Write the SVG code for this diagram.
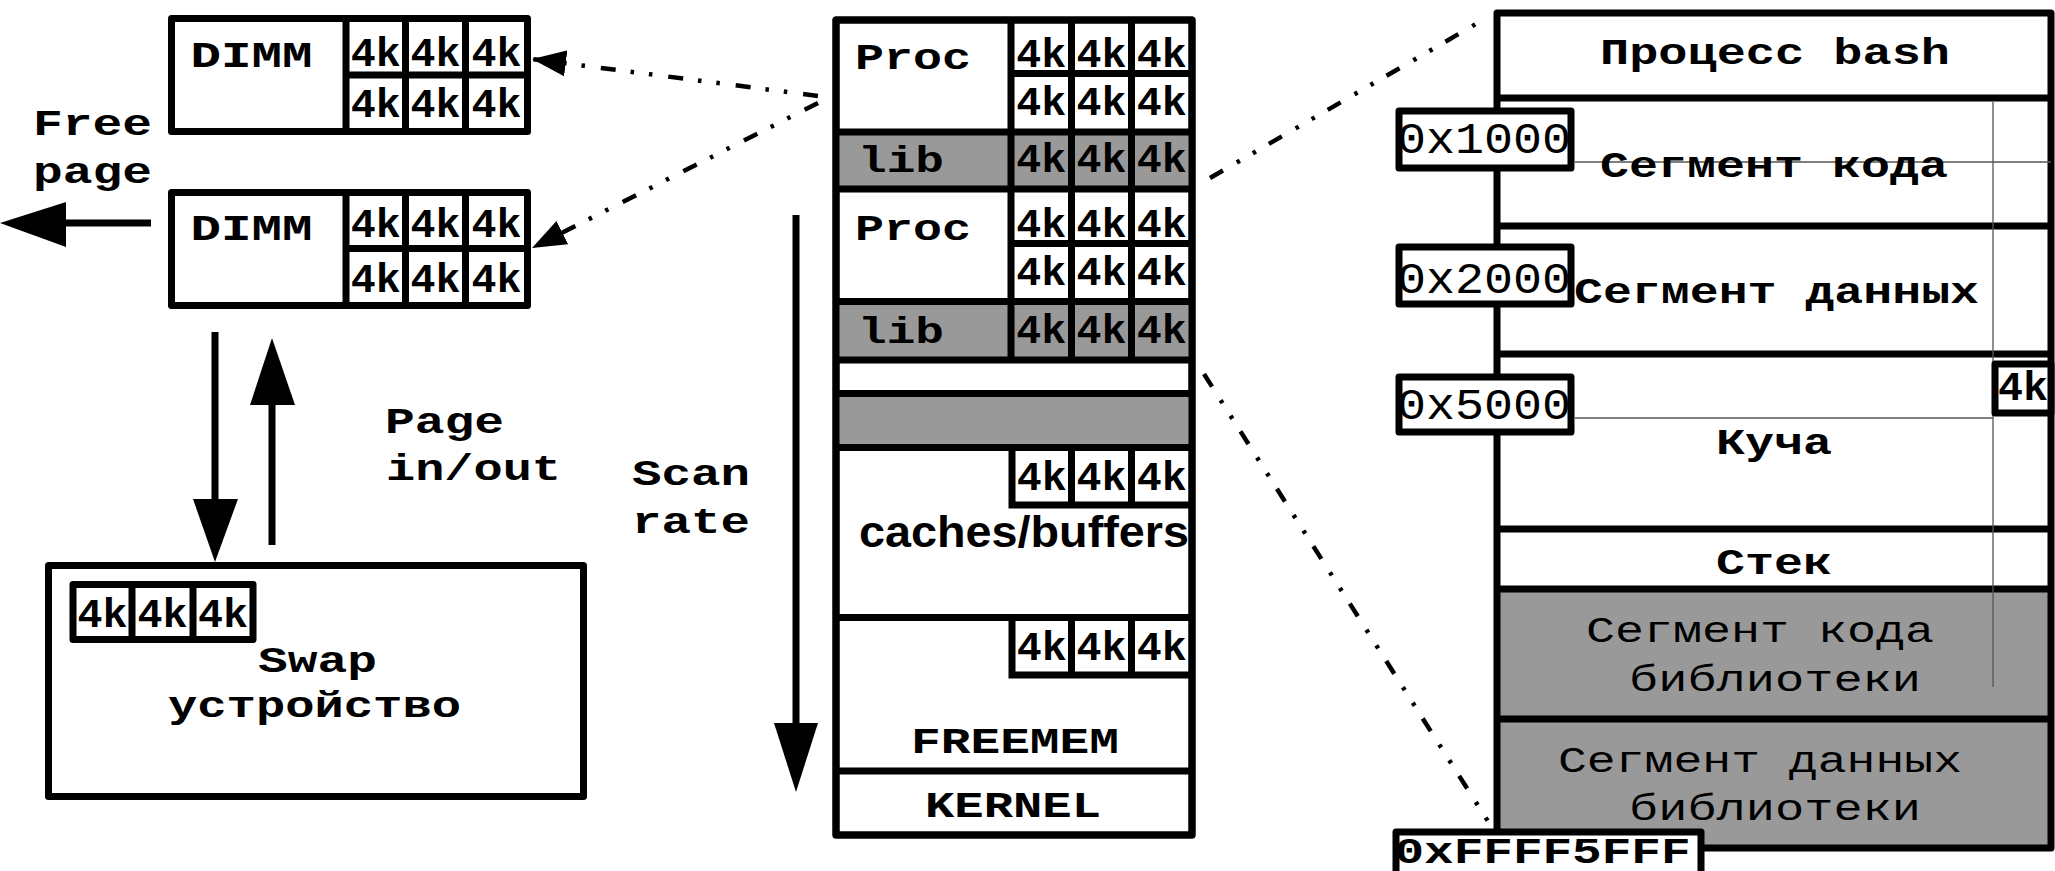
<svg xmlns="http://www.w3.org/2000/svg" width="2055" height="871" viewBox="0 0 2055 871">
  <style>
    .box { fill: #fff; stroke: #000; stroke-width: 7; stroke-linejoin: round; }
    .ln { stroke: #000; stroke-width: 7; fill: none; }
    .gray { fill: #999; }
    .thin { stroke: #555; stroke-width: 1.3; fill: none; }
    .t { font-family: "Liberation Mono", "DejaVu Sans Mono", monospace; font-weight: bold; font-size: 37px; text-anchor: middle; fill: #000; }
    .r { font-weight: normal; }
    .k { font-size: 41px; }
    .addr { font-weight: normal; font-size: 44px; }
    .sans { font-family: "Liberation Sans", Arial, sans-serif; font-weight: bold; font-size: 45px; text-anchor: middle; }
    .dd { stroke: #000; stroke-width: 4.5; fill: none; stroke-dasharray: 15 16 3.5 15 3.5 15; }
    .arr { fill: #000; }
  </style>
  <defs>
    <marker id="head" markerUnits="userSpaceOnUse" markerWidth="36" markerHeight="28" refX="34" refY="14" orient="auto">
      <path d="M0,1 L34,14 L0,27 Z" fill="#000"/>
    </marker>
  </defs>

  <rect width="2055" height="871" fill="#fff"/>

  <!-- upper DIMM -->
  <g id="dimm1">
    <rect class="box" x="171.5" y="18.5" width="356" height="113"/>
    <path class="ln" d="M346,18.5 V131.5 M405.5,18.5 V131.5 M465.5,18.5 V131.5 M346,75 H527.5"/>
    <text class="t" x="251.5" y="67" textLength="122" lengthAdjust="spacingAndGlyphs">DIMM</text>
    <g class="t k">
      <text x="375.8" y="66" textLength="50" lengthAdjust="spacingAndGlyphs">4k</text>
      <text x="435.5" y="66" textLength="50" lengthAdjust="spacingAndGlyphs">4k</text>
      <text x="496.5" y="66" textLength="50" lengthAdjust="spacingAndGlyphs">4k</text>
      <text x="375.8" y="117" textLength="50" lengthAdjust="spacingAndGlyphs">4k</text>
      <text x="435.5" y="117" textLength="50" lengthAdjust="spacingAndGlyphs">4k</text>
      <text x="496.5" y="117" textLength="50" lengthAdjust="spacingAndGlyphs">4k</text>
    </g>
  </g>

  <!-- lower DIMM -->
  <g id="dimm2">
    <rect class="box" x="171.5" y="192.5" width="356" height="113"/>
    <path class="ln" d="M346,192.5 V305.5 M405.5,192.5 V305.5 M465.5,192.5 V305.5 M346,248.5 H527.5"/>
    <text class="t" x="251.5" y="240" textLength="122" lengthAdjust="spacingAndGlyphs">DIMM</text>
    <g class="t k">
      <text x="375.8" y="237" textLength="50" lengthAdjust="spacingAndGlyphs">4k</text>
      <text x="435.5" y="237" textLength="50" lengthAdjust="spacingAndGlyphs">4k</text>
      <text x="496.5" y="237" textLength="50" lengthAdjust="spacingAndGlyphs">4k</text>
      <text x="375.8" y="292" textLength="50" lengthAdjust="spacingAndGlyphs">4k</text>
      <text x="435.5" y="292" textLength="50" lengthAdjust="spacingAndGlyphs">4k</text>
      <text x="496.5" y="292" textLength="50" lengthAdjust="spacingAndGlyphs">4k</text>
    </g>
  </g>

  <!-- free page label -->
  <g id="free-page">
    <text class="t" x="92.5" y="135" textLength="119" lengthAdjust="spacingAndGlyphs">Free</text>
    <text class="t" x="92.5" y="183" textLength="119" lengthAdjust="spacingAndGlyphs">page</text>
  </g>

  <!-- page in/out label -->
  <g id="page-inout">
    <text class="t" x="444.5" y="433" textLength="119" lengthAdjust="spacingAndGlyphs">Page</text>
    <text class="t" x="473.5" y="480" textLength="175" lengthAdjust="spacingAndGlyphs">in/out</text>
  </g>

  <!-- swap device -->
  <g id="swap">
    <rect class="box" x="48.5" y="565.5" width="535" height="231"/>
    <rect class="box" x="73" y="584.5" width="180" height="55"/>
    <path class="ln" d="M132,584.5 V639.5 M193,584.5 V639.5"/>
    <g class="t k">
      <text x="102.5" y="627" textLength="50" lengthAdjust="spacingAndGlyphs">4k</text>
      <text x="162.5" y="627" textLength="50" lengthAdjust="spacingAndGlyphs">4k</text>
      <text x="223" y="627" textLength="50" lengthAdjust="spacingAndGlyphs">4k</text>
    </g>
    <text class="t" x="317.5" y="672" textLength="119" lengthAdjust="spacingAndGlyphs">Swap</text>
    <text class="t" x="314.5" y="717" textLength="293" lengthAdjust="spacingAndGlyphs">устройство</text>
  </g>

  <!-- scan rate label -->
  <g id="scan-rate">
    <text class="t" x="691" y="485" textLength="118" lengthAdjust="spacingAndGlyphs">Scan</text>
    <text class="t" x="691" y="533" textLength="118" lengthAdjust="spacingAndGlyphs">rate</text>
  </g>

  <!-- physical memory column -->
  <g id="memory">
    <rect class="box" x="836" y="20" width="356" height="815"/>
    <rect class="gray" x="836" y="132" width="356" height="57"/>
    <rect class="gray" x="836" y="301.5" width="356" height="58.5"/>
    <rect class="gray" x="836" y="393.5" width="356" height="54"/>
    <path class="ln" d="M836,132 H1192 M836,189 H1192 M836,301.5 H1192 M836,360 H1192 M836,393.5 H1192 M836,447.5 H1192 M836,617.5 H1192 M836,771 H1192"/>
    <path class="ln" d="M1011,20 V360 M1071.5,20 V360 M1131.5,20 V360 M1011,73.5 H1192 M1011,243.5 H1192"/>
    <path class="ln" d="M1012,447.5 V505 H1192 M1071.5,447.5 V505 M1131.5,447.5 V505"/>
    <path class="ln" d="M1012,617.5 V675 H1192 M1071.5,617.5 V675 M1131.5,617.5 V675"/>
    <rect x="836" y="20" width="356" height="815" fill="none" stroke="#000" stroke-width="7" stroke-linejoin="round"/>
    <text class="t" x="913" y="69" textLength="116" lengthAdjust="spacingAndGlyphs">Proc</text>
    <text class="t" x="901" y="172" textLength="86" lengthAdjust="spacingAndGlyphs">lib</text>
    <text class="t" x="913" y="240" textLength="116" lengthAdjust="spacingAndGlyphs">Proc</text>
    <text class="t" x="901" y="343" textLength="86" lengthAdjust="spacingAndGlyphs">lib</text>
    <g class="t k">
      <text x="1041.3" y="67" textLength="50" lengthAdjust="spacingAndGlyphs">4k</text>
      <text x="1101.5" y="67" textLength="50" lengthAdjust="spacingAndGlyphs">4k</text>
      <text x="1161.8" y="67" textLength="50" lengthAdjust="spacingAndGlyphs">4k</text>
      <text x="1041.3" y="115" textLength="50" lengthAdjust="spacingAndGlyphs">4k</text>
      <text x="1101.5" y="115" textLength="50" lengthAdjust="spacingAndGlyphs">4k</text>
      <text x="1161.8" y="115" textLength="50" lengthAdjust="spacingAndGlyphs">4k</text>
      <text x="1041.3" y="172" textLength="50" lengthAdjust="spacingAndGlyphs">4k</text>
      <text x="1101.5" y="172" textLength="50" lengthAdjust="spacingAndGlyphs">4k</text>
      <text x="1161.8" y="172" textLength="50" lengthAdjust="spacingAndGlyphs">4k</text>
      <text x="1041.3" y="237" textLength="50" lengthAdjust="spacingAndGlyphs">4k</text>
      <text x="1101.5" y="237" textLength="50" lengthAdjust="spacingAndGlyphs">4k</text>
      <text x="1161.8" y="237" textLength="50" lengthAdjust="spacingAndGlyphs">4k</text>
      <text x="1041.3" y="285" textLength="50" lengthAdjust="spacingAndGlyphs">4k</text>
      <text x="1101.5" y="285" textLength="50" lengthAdjust="spacingAndGlyphs">4k</text>
      <text x="1161.8" y="285" textLength="50" lengthAdjust="spacingAndGlyphs">4k</text>
      <text x="1041.3" y="343" textLength="50" lengthAdjust="spacingAndGlyphs">4k</text>
      <text x="1101.5" y="343" textLength="50" lengthAdjust="spacingAndGlyphs">4k</text>
      <text x="1161.8" y="343" textLength="50" lengthAdjust="spacingAndGlyphs">4k</text>
      <text x="1041.8" y="490" textLength="50" lengthAdjust="spacingAndGlyphs">4k</text>
      <text x="1101.5" y="490" textLength="50" lengthAdjust="spacingAndGlyphs">4k</text>
      <text x="1161.8" y="490" textLength="50" lengthAdjust="spacingAndGlyphs">4k</text>
      <text x="1041.8" y="660" textLength="50" lengthAdjust="spacingAndGlyphs">4k</text>
      <text x="1101.5" y="660" textLength="50" lengthAdjust="spacingAndGlyphs">4k</text>
      <text x="1161.8" y="660" textLength="50" lengthAdjust="spacingAndGlyphs">4k</text>
    </g>
    <text class="sans" x="1024" y="547" textLength="330" lengthAdjust="spacingAndGlyphs">caches/buffers</text>
    <text class="t" x="1015" y="753" textLength="208" lengthAdjust="spacingAndGlyphs">FREEMEM</text>
    <text class="t" x="1013" y="817" textLength="176" lengthAdjust="spacingAndGlyphs">KERNEL</text>
  </g>

  <!-- process address space -->
  <g id="process-bash">
    <rect class="gray" x="1497" y="589" width="554" height="259"/>
    <path class="ln" d="M1497,13 V848 H2051 V13 Z" stroke-linejoin="round"/>
    <path class="ln" d="M1497,98 H2051 M1497,226 H2051 M1497,354 H2051 M1497,529 H2051 M1497,589 H2051 M1497,719 H2051"/>
    <path class="thin" d="M1993,102 V687 M1575,162 H2051 M1575,418 H1993"/>
    <text class="t" x="1775" y="64" textLength="350" lengthAdjust="spacingAndGlyphs">Процесс bash</text>
    <text class="t" x="1774" y="177" textLength="348" lengthAdjust="spacingAndGlyphs">Сегмент кода</text>
    <text class="t" x="1776.5" y="303" textLength="405" lengthAdjust="spacingAndGlyphs">Сегмент данных</text>
    <text class="t" x="1774" y="454" textLength="116" lengthAdjust="spacingAndGlyphs">Куча</text>
    <text class="t" x="1774" y="574" textLength="116" lengthAdjust="spacingAndGlyphs">Стек</text>
    <text class="t r" x="1760" y="642" textLength="348" lengthAdjust="spacingAndGlyphs">Сегмент кода</text>
    <text class="t r" x="1775" y="691" textLength="292" lengthAdjust="spacingAndGlyphs">библиотеки</text>
    <text class="t r" x="1760" y="772" textLength="404" lengthAdjust="spacingAndGlyphs">Сегмент данных</text>
    <text class="t r" x="1775" y="820" textLength="292" lengthAdjust="spacingAndGlyphs">библиотеки</text>
  </g>

  <g id="heap-page">
    <rect class="box" x="1995" y="364" width="56" height="49"/>
    <text class="t k" x="2023" y="400" textLength="50" lengthAdjust="spacingAndGlyphs">4k</text>
  </g>

  <g id="addr-1000">
    <rect class="box" x="1399" y="111" width="172" height="57" stroke-width="8"/>
    <text class="t addr" x="1484" y="153" textLength="174" lengthAdjust="spacingAndGlyphs">0x1000</text>
  </g>
  <g id="addr-2000">
    <rect class="box" x="1399" y="247" width="172" height="57" stroke-width="8"/>
    <text class="t addr" x="1484" y="293" textLength="174" lengthAdjust="spacingAndGlyphs">0x2000</text>
  </g>
  <g id="addr-5000">
    <rect class="box" x="1399" y="377" width="172" height="55" stroke-width="8"/>
    <text class="t addr" x="1484" y="419" textLength="174" lengthAdjust="spacingAndGlyphs">0x5000</text>
  </g>
  <g id="addr-end">
    <rect class="box" x="1396" y="832" width="305" height="60" stroke-width="8"/>
    <text class="t" x="1542.5" y="863" textLength="296" lengthAdjust="spacingAndGlyphs">0xFFFF5FFF</text>
  </g>

  <!-- connectors -->
  <g id="connectors">
    <path class="dd" d="M818,96 L532,59" marker-end="url(#head)"/>
    <path class="dd" d="M818,103 L532,248" marker-end="url(#head)"/>
    <path class="dd" d="M1210,178 L1488,17"/>
    <path class="dd" d="M1204,374 L1491,826"/>
    <path class="ln" d="M151,223 H62" stroke-width="8"/>
    <polygon class="arr" points="66,202 66,247 0,223"/>
    <path class="ln" d="M215,332 V502"/>
    <polygon class="arr" points="193,499 238,499 215,562"/>
    <path class="ln" d="M272,545 V402"/>
    <polygon class="arr" points="250,405 295,405 272,338"/>
    <path class="ln" d="M796,215 V726"/>
    <polygon class="arr" points="774,723 818,723 796,792"/>
  </g>
</svg>
